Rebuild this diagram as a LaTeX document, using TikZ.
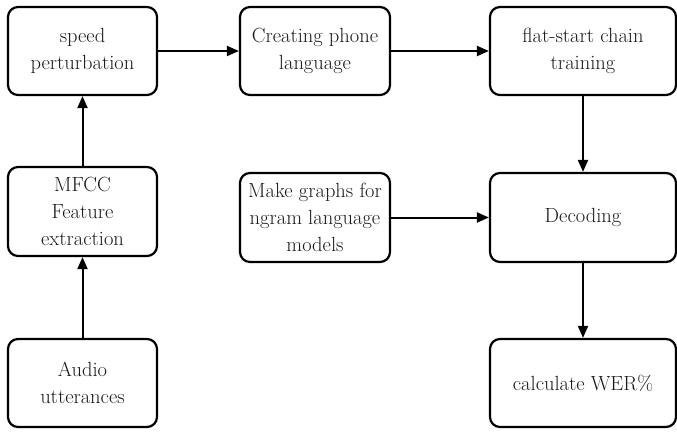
\documentclass[tikz,border=0pt]{standalone}
\usepackage{tikz}
\usetikzlibrary{arrows.meta,positioning}

\begin{document}
\begin{tikzpicture}[x=1pt, y=1pt,
  stage/.style={draw, line width=2.2pt, rounded corners=10pt, align=center,
                minimum width=149pt, minimum height=88pt, inner sep=0pt,
                font=\fontsize{20.5}{27}\selectfont, text=black!90},
  wide/.style={stage, minimum width=186pt},
  arr/.style={-{Triangle[length=12pt, width=10pt]}, line width=2pt}
]
  \useasboundingbox (0,0) rectangle (677,432);

  % Stages
  \node[stage] (speed)  at (82.5, 381)  {speed\\perturbation};
  \node[stage, minimum width=150pt] (phone) at (315, 381) {Creating phone\\language};
  \node[wide]  (flat)   at (583, 381)   {flat-start chain\\training};
  \node[stage, minimum height=89pt] (mfcc) at (82.5, 220.5) {MFCC\\Feature\\extraction};
  \node[stage, minimum width=150pt, minimum height=89pt] (graphs) at (315, 214.5)
    {Make graphs for\\ngram language\\models};
  \node[wide, minimum height=89pt] (decode) at (583, 214.5) {Decoding};
  \node[stage] (audio)  at (82.5, 49)   {Audio\\utterances};
  \node[wide]  (wer)    at (583, 49)    {calculate WER\%};

  % Arrows
  \draw[arr] (audio) -- (mfcc);
  \draw[arr] (mfcc) -- (speed);
  \draw[arr] (speed) -- (phone);
  \draw[arr] (phone) -- (flat);
  \draw[arr] (flat) -- (decode);
  \draw[arr] (graphs) -- (decode);
  \draw[arr] (decode) -- (wer);
\end{tikzpicture}
\end{document}
